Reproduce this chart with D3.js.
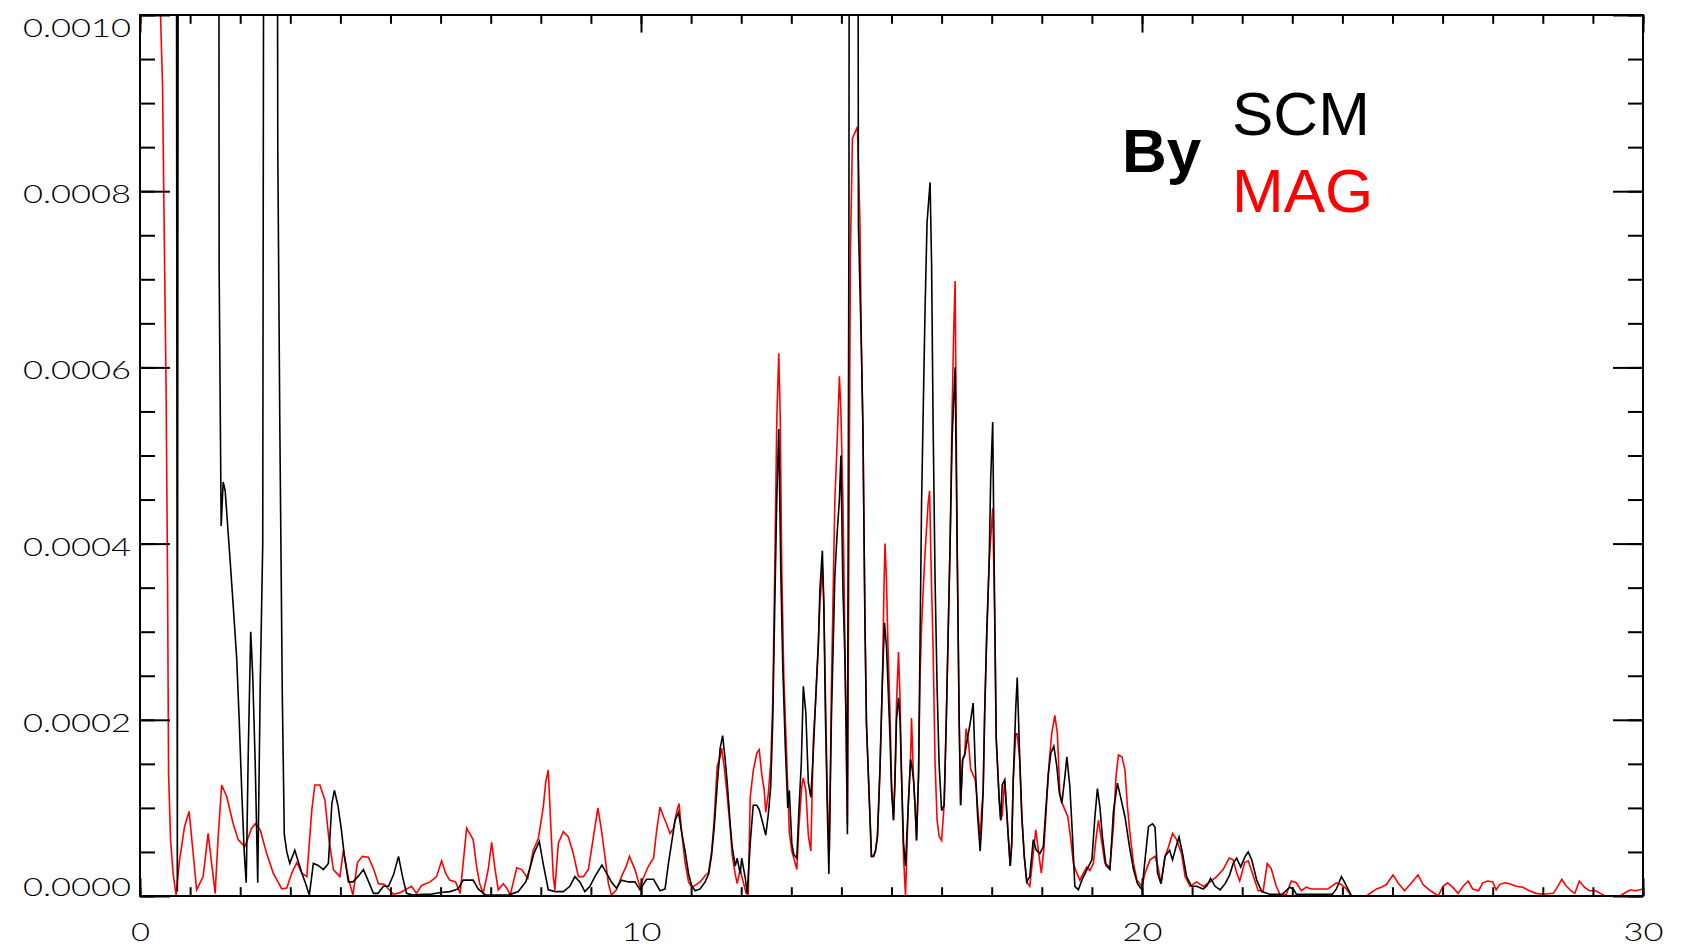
<!DOCTYPE html>
<html>
<head>
<meta charset="utf-8">
<script src="https://cdn.jsdelivr.net/npm/d3@7"></script>
<style>
  html, body { margin: 0; padding: 0; background: #fff; }
  svg { display: block; }
  .tick text { font-family: "Lato", "DejaVu Sans", sans-serif; font-weight: 300; font-size: 25px; fill: #000; }
  .tick line { stroke: #000; stroke-width: 2; }
  .label { font-family: "Liberation Sans", Arial, Helvetica, sans-serif; font-size: 62px; }
</style>
</head>
<body>
<svg id="chart" width="1687" height="948"></svg>
<script>
// Power spectral density of the By component, in units of 1e-5 (so 100 = 0.0010).
// Each entry is [frequency, psd].
const PSD_UNIT = 1e-5;

const scmPoints = [
  [0.00, 500], [0.70, 300], [0.745, 0.5], [0.79, 300], [1.55, 300], [1.58, 71], [1.62, 42],
  [1.66, 47], [1.70, 46], [1.75, 42], [1.80, 38], [1.86, 33], [1.93, 27], [1.98, 20],
  [2.03, 12], [2.08, 5], [2.12, 1.5], [2.16, 16], [2.21, 30], [2.25, 25], [2.30, 15],
  [2.35, 1.5], [2.40, 24], [2.45, 40], [2.49, 200], [2.72, 200], [2.75, 85], [2.79, 54],
  [2.84, 23], [2.88, 7], [2.93, 5], [2.99, 3.7], [3.09, 5.2], [3.16, 3.9], [3.23, 2.6],
  [3.30, 1.5], [3.38, 0.1], [3.46, 3.7], [3.55, 3.5], [3.66, 3.0], [3.76, 3.7], [3.83, 10.5],
  [3.88, 12], [3.95, 10.3], [4.02, 7.5], [4.08, 4.5], [4.16, 1.6], [4.25, 1.6], [4.35, 2.2],
  [4.46, 3.0], [4.55, 1.8], [4.66, 0.3], [4.75, 0.3], [4.86, 1.1], [4.96, 1.1], [5.06, 2.4],
  [5.16, 4.5], [5.24, 2.2], [5.32, 0.3], [5.45, 0.1], [5.65, 0.2], [5.80, 0.2], [6.00, 0.4],
  [6.19, 0.5], [6.35, 0.8], [6.45, 1.8], [6.65, 1.8], [6.75, 0.8], [6.90, 0.1], [7.10, 0.1],
  [7.35, 0.1], [7.55, 0.5], [7.70, 1.6], [7.80, 3.5], [7.86, 4.8], [7.97, 6.2], [8.05, 3.6],
  [8.15, 0.7], [8.30, 0.5], [8.45, 0.5], [8.58, 1.1], [8.68, 2.2], [8.78, 1.6], [8.88, 0.5],
  [8.98, 1.1], [9.08, 2.2], [9.22, 3.5], [9.32, 2.5], [9.42, 1.5], [9.51, 0.9], [9.61, 1.8],
  [9.75, 1.6], [9.88, 1.6], [9.98, 0.7], [10.11, 1.9], [10.25, 1.9], [10.38, 0.6], [10.48, 0.8],
  [10.55, 3.8], [10.61, 6.0], [10.68, 8.6], [10.75, 9.5], [10.81, 7.3], [10.88, 5.1], [10.95, 2.5],
  [11.01, 1.2], [11.08, 0.6], [11.18, 0.8], [11.28, 1.6], [11.35, 2.5], [11.41, 4.7], [11.46, 7.7],
  [11.52, 12.5], [11.58, 16.8], [11.63, 18.2], [11.68, 15.5], [11.72, 12.9], [11.78, 8.2],
  [11.82, 5.6], [11.88, 3.4], [11.92, 4.3], [11.98, 2.5], [12.01, 4.3], [12.08, 2.1], [12.12, 0.3],
  [12.18, 6.0], [12.24, 10.3], [12.31, 10.3], [12.36, 9.8], [12.42, 8.5], [12.49, 6.9], [12.54, 9.2],
  [12.59, 12.5], [12.63, 20], [12.67, 33], [12.71, 45], [12.75, 53], [12.79, 37], [12.83, 26],
  [12.88, 17], [12.93, 10], [12.96, 12], [13.01, 6], [13.05, 4.7], [13.11, 4.3], [13.15, 9.5],
  [13.20, 15.1], [13.24, 23.8], [13.29, 20.8], [13.34, 12.9], [13.39, 11.2], [13.44, 16.4],
  [13.49, 22.9], [13.54, 28.6], [13.57, 34.7], [13.62, 39.2], [13.65, 33], [13.68, 20.8],
  [13.72, 9.5], [13.75, 2.5], [13.80, 20], [13.84, 29.4], [13.87, 36.4], [13.91, 40.7],
  [13.96, 45], [13.99, 50], [14.03, 35], [14.07, 27], [14.10, 18], [14.12, 7], [14.15, 76],
  [14.18, 250], [14.30, 250], [14.34, 76], [14.40, 62], [14.43, 53], [14.47, 31], [14.50, 19.6],
  [14.55, 12], [14.60, 4.5], [14.64, 4.5], [14.68, 5.1], [14.72, 6.8], [14.77, 14.4], [14.82, 24.8],
  [14.86, 31], [14.90, 28.3], [14.93, 24], [14.97, 18], [15.00, 12], [15.04, 8.6], [15.07, 13.2],
  [15.10, 20], [15.14, 22.5], [15.17, 20], [15.20, 13.8], [15.24, 6], [15.28, 3.4], [15.33, 9.7],
  [15.38, 15.5], [15.40, 15], [15.44, 13.2], [15.47, 10.3], [15.50, 6.3], [15.54, 13.8],
  [15.57, 28.9], [15.60, 44.5], [15.64, 57.3], [15.67, 66.6], [15.71, 76.5], [15.77, 81],
  [15.80, 71.8], [15.83, 53.8], [15.87, 35.8], [15.91, 23.7], [15.95, 15], [16.00, 9.7],
  [16.05, 10.3], [16.09, 19], [16.13, 29.5], [16.17, 40], [16.21, 52], [16.27, 60], [16.31, 40],
  [16.35, 20.2], [16.38, 10.3], [16.42, 15.5], [16.46, 16], [16.52, 18], [16.57, 19.6],
  [16.63, 21.9], [16.67, 15], [16.72, 9], [16.77, 5.1], [16.80, 8], [16.83, 12], [16.86, 20.8],
  [16.90, 29.5], [16.95, 38], [16.98, 47.4], [17.02, 53.8], [17.06, 32], [17.09, 17.9],
  [17.15, 10.9], [17.18, 8.6], [17.21, 12.6], [17.26, 13.2], [17.29, 10.5], [17.33, 6.8],
  [17.37, 3.4], [17.40, 6], [17.43, 13.2], [17.48, 21.3], [17.51, 24.8], [17.56, 15.5],
  [17.60, 9.2], [17.65, 4.5], [17.70, 1.6], [17.76, 2.2], [17.83, 6.4], [17.89, 5.2],
  [17.96, 4.8], [18.03, 5.6], [18.08, 9.8], [18.13, 13.9], [18.18, 16.2], [18.24, 17],
  [18.30, 14.7], [18.35, 11.7], [18.40, 10.5], [18.46, 13.5], [18.50, 15.8], [18.56, 12.4],
  [18.61, 7.1], [18.66, 1.1], [18.73, 0.7], [18.80, 1.8], [18.90, 3.0], [19.00, 4.1],
  [19.06, 9.0], [19.11, 12.2], [19.16, 10.1], [19.21, 6.7], [19.28, 3.5], [19.36, 3.0],
  [19.43, 9.6], [19.51, 12.8], [19.57, 11.3], [19.66, 9.0], [19.75, 5.6], [19.83, 3.0],
  [19.91, 1.4], [20.00, 0.7], [20.06, 4.1], [20.13, 7.9], [20.21, 8.2], [20.26, 7.8],
  [20.31, 2.6], [20.38, 1.4], [20.46, 4.5], [20.55, 5.2], [20.61, 4.1], [20.68, 5.6],
  [20.74, 6.7], [20.81, 4.8], [20.89, 2.2], [20.99, 1.1], [21.09, 1.1], [21.22, 0.8],
  [21.30, 1.2], [21.37, 2.0], [21.46, 1.1], [21.56, 0.7], [21.66, 1.4], [21.75, 2.4],
  [21.82, 3.7], [21.89, 4.3], [21.97, 3.3], [22.06, 4.5], [22.12, 5.0], [22.19, 4.1],
  [22.29, 1.8], [22.39, 0.5], [22.55, 0.2], [22.80, 0.2], [22.95, 1.0], [23.02, 0.8],
  [23.08, 0.2], [23.50, 0.2], [23.80, 0.2], [23.88, 0.8], [23.98, 2.2], [24.05, 1.5],
  [24.11, 0.8], [24.18, 0.0], [30.00, 0.0]
];

const magPoints = [
  [0.00, 500], [0.38, 300], [0.41, 100], [0.45, 92], [0.48, 77], [0.52, 58], [0.55, 36],
  [0.57, 14], [0.61, 6.4], [0.66, 2.6], [0.72, 0.1], [0.79, 4.1], [0.89, 7.9], [0.98, 9.6],
  [1.05, 5.5], [1.13, 0.7], [1.26, 2.2], [1.36, 7.1], [1.43, 3.7], [1.50, 0.3], [1.56, 6.7],
  [1.63, 12.6], [1.73, 11.3], [1.86, 8.2], [1.96, 6.4], [2.09, 5.6], [2.23, 7.7], [2.30, 8.2],
  [2.40, 7.5], [2.53, 4.8], [2.66, 2.6], [2.83, 0.8], [2.93, 0.9], [3.03, 2.6], [3.13, 3.8],
  [3.23, 2.6], [3.33, 2.2], [3.43, 9.8], [3.49, 12.6], [3.59, 12.6], [3.69, 10.9], [3.77, 6.5],
  [3.86, 3.0], [3.99, 2.2], [4.06, 5.2], [4.16, 2.0], [4.25, 0.1], [4.34, 3.8], [4.44, 4.5],
  [4.56, 4.4], [4.66, 3.1], [4.76, 1.4], [4.88, 1.3], [4.96, 0.8], [5.06, 0.2], [5.20, 0.4],
  [5.32, 0.8], [5.42, 1.1], [5.52, 0.3], [5.62, 1.2], [5.79, 1.6], [5.92, 2.2], [6.02, 4.0],
  [6.10, 2.6], [6.18, 1.8], [6.30, 1.6], [6.39, 0.3], [6.45, 3.7], [6.52, 7.7], [6.58, 7.1],
  [6.65, 6.4], [6.72, 3.3], [6.78, 1.4], [6.85, 0.3], [6.95, 3.0], [7.02, 6.1], [7.08, 3.3],
  [7.15, 0.7], [7.25, 1.4], [7.32, 0.9], [7.39, 0.1], [7.52, 3.2], [7.62, 3.0], [7.74, 2.0],
  [7.85, 5.2], [7.95, 6.5], [8.05, 10.1], [8.10, 13], [8.15, 14.3], [8.20, 7.9], [8.25, 2.2],
  [8.28, 0.7], [8.35, 6], [8.45, 7.3], [8.55, 6.7], [8.65, 4.8], [8.75, 2.2], [8.85, 2.2],
  [8.95, 3.0], [9.05, 6.7], [9.14, 10.0], [9.21, 7.5], [9.28, 4.5], [9.35, 1.4], [9.41, 0.1],
  [9.51, 0.7], [9.61, 2.2], [9.70, 3.3], [9.77, 4.5], [9.88, 3.0], [9.98, 1.0], [10.05, 2.1],
  [10.15, 3.4], [10.25, 4.3], [10.31, 7.3], [10.38, 10.1], [10.45, 9.0], [10.51, 8.2],
  [10.58, 7.1], [10.65, 7.7], [10.71, 9.5], [10.76, 10.5], [10.81, 7.3], [10.88, 3.8],
  [10.95, 1.6], [11.01, 1.0], [11.08, 1.2], [11.18, 1.6], [11.28, 2.3], [11.35, 2.7],
  [11.41, 5.1], [11.46, 8.6], [11.52, 14.7], [11.58, 15.8], [11.61, 16.8], [11.66, 14.7],
  [11.71, 12.0], [11.78, 7.7], [11.82, 4.7], [11.88, 2.5], [11.92, 1.4], [11.98, 3.0],
  [12.04, 1.6], [12.10, 0.3], [12.14, 0.2], [12.18, 11.2], [12.24, 14.2], [12.31, 16.2],
  [12.36, 16.6], [12.41, 13.8], [12.46, 12.0], [12.49, 9.5], [12.54, 11.6], [12.59, 15.1],
  [12.63, 22], [12.67, 37], [12.71, 54], [12.75, 61.6], [12.78, 54], [12.81, 37], [12.85, 25],
  [12.90, 17], [12.96, 7.3], [13.01, 5.1], [13.05, 4.3], [13.11, 3.0], [13.15, 7.7],
  [13.21, 12.5], [13.24, 13.4], [13.29, 12.0], [13.34, 6.9], [13.39, 5.1], [13.44, 17.7],
  [13.49, 22.5], [13.54, 28.6], [13.57, 33], [13.62, 37.3], [13.65, 33], [13.68, 23.4],
  [13.72, 11.2], [13.76, 5.1], [13.80, 23.4], [13.84, 36], [13.87, 45], [13.91, 50.7],
  [13.96, 59], [13.99, 55], [14.03, 45], [14.07, 29], [14.10, 15], [14.12, 8], [14.15, 40],
  [14.18, 73], [14.22, 86], [14.32, 87.3], [14.37, 76.5], [14.40, 62], [14.43, 53], [14.47, 31],
  [14.50, 19.6], [14.55, 12], [14.60, 4.5], [14.64, 4.5], [14.68, 5.1], [14.72, 6.8],
  [14.77, 14.4], [14.82, 24.8], [14.85, 35], [14.87, 40], [14.90, 35.8], [14.93, 28.3],
  [14.97, 20.8], [15.00, 13.2], [15.04, 8.6], [15.07, 13.2], [15.10, 21.9], [15.14, 27.7],
  [15.17, 22.5], [15.20, 13.8], [15.24, 4.5], [15.28, 0.0], [15.33, 9.7], [15.38, 15.5],
  [15.40, 20.2], [15.44, 13.2], [15.47, 10.3], [15.50, 6.3], [15.54, 13.8], [15.57, 25],
  [15.60, 30.6], [15.66, 38], [15.73, 44.5], [15.76, 46], [15.80, 35], [15.83, 28.3],
  [15.87, 15], [15.91, 8.6], [15.95, 6.8], [16.00, 6.3], [16.05, 10.3], [16.09, 19],
  [16.13, 29.5], [16.17, 40], [16.21, 55], [16.24, 63.7], [16.27, 69.8], [16.31, 40],
  [16.35, 20.2], [16.38, 10.3], [16.42, 15.5], [16.46, 16], [16.49, 19], [16.54, 17.3],
  [16.58, 14.4], [16.67, 13.2], [16.70, 11.5], [16.73, 9.2], [16.77, 6.8], [16.80, 9.7],
  [16.83, 12], [16.86, 20.8], [16.90, 29.5], [16.95, 38], [17.02, 44], [17.06, 32],
  [17.09, 17.9], [17.15, 10.9], [17.18, 8.6], [17.21, 9.2], [17.26, 13.2], [17.29, 10.5],
  [17.33, 6.8], [17.37, 3.4], [17.40, 6], [17.43, 13.2], [17.48, 18.4], [17.51, 18.4],
  [17.56, 15.5], [17.60, 9.2], [17.65, 4.5], [17.70, 1.6], [17.76, 1.1], [17.83, 4.8],
  [17.88, 7.5], [17.93, 5.2], [17.99, 2.6], [18.04, 5.2], [18.10, 10.9], [18.15, 15.4],
  [18.20, 18.5], [18.26, 20.5], [18.31, 18.5], [18.36, 11.7], [18.41, 10.5], [18.46, 9.8],
  [18.52, 9.0], [18.58, 6.4], [18.63, 3.7], [18.70, 2.6], [18.76, 1.8], [18.83, 2.6],
  [18.90, 3.3], [18.96, 2.9], [19.03, 3.7], [19.08, 6.4], [19.13, 8.6], [19.19, 6.4],
  [19.26, 3.7], [19.36, 3.3], [19.43, 7.9], [19.48, 13.5], [19.53, 16.0], [19.60, 15.8],
  [19.66, 14.3], [19.71, 10.1], [19.76, 7.1], [19.83, 3.7], [19.90, 1.8], [20.00, 1.1],
  [20.06, 2.6], [20.16, 4.1], [20.26, 4.5], [20.32, 3.3], [20.38, 1.4], [20.46, 4.5],
  [20.53, 5.6], [20.61, 7.1], [20.69, 6.4], [20.79, 4.8], [20.86, 2.2], [20.96, 1.1],
  [21.09, 1.6], [21.22, 1.1], [21.36, 1.6], [21.49, 2.2], [21.62, 3.0], [21.74, 4.3],
  [21.82, 4.1], [21.89, 2.6], [21.95, 1.7], [22.05, 3.8], [22.12, 4.0], [22.22, 2.3],
  [22.32, 0.6], [22.42, 0.6], [22.50, 3.7], [22.58, 3.1], [22.68, 1.1], [22.76, 0.1],
  [22.88, 0.2], [22.98, 1.7], [23.08, 1.5], [23.18, 0.6], [23.28, 1.0], [23.38, 0.8],
  [23.58, 0.8], [23.71, 0.8], [23.88, 1.5], [23.98, 1.3], [24.08, 0.8], [24.18, 0.0],
  [24.48, 0.0], [24.58, 0.4], [24.68, 0.8], [24.78, 1.0], [24.88, 1.3], [25.01, 2.4],
  [25.11, 1.5], [25.24, 0.6], [25.38, 1.5], [25.51, 2.4], [25.61, 1.3], [25.71, 0.8],
  [25.81, 0.4], [25.91, 0.0], [26.01, 1.1], [26.10, 1.5], [26.20, 1.0], [26.31, 0.3],
  [26.41, 1.1], [26.51, 1.7], [26.60, 0.8], [26.72, 0.6], [26.80, 1.5], [26.90, 1.7],
  [27.00, 1.6], [27.07, 0.7], [27.14, 1.3], [27.24, 1.5], [27.34, 1.4], [27.47, 1.1],
  [27.60, 1.0], [27.73, 0.6], [27.87, 0.3], [28.00, 0.2], [28.21, 0.3], [28.30, 1.1],
  [28.38, 1.9], [28.46, 1.2], [28.56, 0.6], [28.64, 0.3], [28.73, 1.7], [28.83, 1.0],
  [28.93, 0.6], [29.06, 0.6], [29.15, 0.3], [29.24, 0.0], [29.54, 0.0], [29.65, 0.4],
  [29.75, 0.7], [29.85, 0.6], [29.93, 0.7], [30.00, 0.8]
];

const componentName = "By";
const seriesNames = ["SCM", "MAG"];
const xDomain = [0, 30];
const yDomain = [0, 0.0010];
const xMajorTicks = [0, 10, 20, 30];
const xMinorTicks = d3.range(0, 31, 1);
const yMajorTicks = [0, 0.0002, 0.0004, 0.0006, 0.0008, 0.0010];
const yMinorTicks = d3.range(0, 21).map(i => i * 0.00005);

// ---- layout and style ----
const frame = { left: 140, right: 1643, top: 15, bottom: 896 };
const colors = { SCM: "#000000", MAG: "#ff0000" };
const xTickLen = { major: 17.6, minor: 8.8 };
const yTickLen = { major: 30, minor: 15 };

const svg = d3.select("#chart");
const x = d3.scaleLinear().domain(xDomain).range([frame.left, frame.right]);
const y = d3.scaleLinear().domain(yDomain).range([frame.bottom, frame.top]);

svg.append("rect").attr("width", 1687).attr("height", 948).attr("fill", "#fff");

svg.append("defs").append("clipPath").attr("id", "plot-clip")
  .append("rect")
  .attr("x", frame.left).attr("y", frame.top)
  .attr("width", frame.right - frame.left).attr("height", frame.bottom - frame.top);

const line = d3.line()
  .x(d => x(d[0]))
  .y(d => y(d[1] * PSD_UNIT));

const traces = svg.append("g").attr("clip-path", "url(#plot-clip)");
// MAG first, SCM drawn over it
traces.append("path").datum(magPoints)
  .attr("d", line).attr("fill", "none")
  .attr("stroke", colors.MAG).attr("stroke-width", 1.6).attr("stroke-linejoin", "miter");
traces.append("path").datum(scmPoints)
  .attr("d", line).attr("fill", "none")
  .attr("stroke", colors.SCM).attr("stroke-width", 1.6).attr("stroke-linejoin", "miter");

// ---- axes: ticks point inward on all four sides ----
function strip(g) { g.select(".domain").remove(); }

svg.append("g").attr("transform", `translate(0,${frame.bottom})`)
  .call(d3.axisBottom(x).tickValues(xMinorTicks).tickSize(-xTickLen.minor).tickFormat(""))
  .call(strip);
const xLabels = svg.append("g").attr("transform", `translate(0,${frame.bottom})`)
  .call(d3.axisBottom(x).tickValues(xMajorTicks).tickSize(-xTickLen.major).tickPadding(27)
    .tickFormat(d3.format("d")))
  .call(strip);
xLabels.selectAll(".tick text")
  .attr("textLength", d => String(d).length === 1 ? 19 : 40)
  .attr("lengthAdjust", "spacingAndGlyphs");

svg.append("g").attr("transform", `translate(0,${frame.top})`)
  .call(d3.axisTop(x).tickValues(xMinorTicks).tickSize(-xTickLen.minor).tickFormat(""))
  .call(strip);
svg.append("g").attr("transform", `translate(0,${frame.top})`)
  .call(d3.axisTop(x).tickValues(xMajorTicks).tickSize(-xTickLen.major).tickFormat(""))
  .call(strip);

svg.append("g").attr("transform", `translate(${frame.left},0)`)
  .call(d3.axisLeft(y).tickValues(yMinorTicks).tickSize(-yTickLen.minor).tickFormat(""))
  .call(strip);
const yLabels = svg.append("g").attr("transform", `translate(${frame.left},0)`)
  .call(d3.axisLeft(y).tickValues(yMajorTicks).tickSize(-yTickLen.major).tickPadding(9)
    .tickFormat(d3.format(".4f")))
  .call(strip);
// keep the end labels inside the frame, others sit just below their tick
yLabels.selectAll(".tick text")
  .attr("dy", "0.36em")
  .attr("y", d => {
    const target = Math.max(frame.top + 12.5, Math.min(frame.bottom - 10, y(d) + 2.5));
    return target - y(d);
  })
  .attr("textLength", 108)
  .attr("lengthAdjust", "spacingAndGlyphs");

svg.append("g").attr("transform", `translate(${frame.right},0)`)
  .call(d3.axisRight(y).tickValues(yMinorTicks).tickSize(-yTickLen.minor).tickFormat(""))
  .call(strip);
svg.append("g").attr("transform", `translate(${frame.right},0)`)
  .call(d3.axisRight(y).tickValues(yMajorTicks).tickSize(-yTickLen.major).tickFormat(""))
  .call(strip);

svg.append("rect")
  .attr("x", frame.left).attr("y", frame.top)
  .attr("width", frame.right - frame.left).attr("height", frame.bottom - frame.top)
  .attr("fill", "none").attr("stroke", "#000").attr("stroke-width", 2);

// ---- component name and instrument legend ----
svg.append("text").attr("class", "label")
  .attr("x", 1122).attr("y", 171.5)
  .attr("font-weight", "bold").attr("fill", "#000")
  .text(componentName);
svg.append("g").selectAll("text").data(seriesNames).join("text")
  .attr("class", "label")
  .attr("x", 1232)
  .attr("y", (d, i) => 135 + i * 76.5)
  .attr("fill", d => colors[d])
  .text(d => d);
</script>
</body>
</html>
